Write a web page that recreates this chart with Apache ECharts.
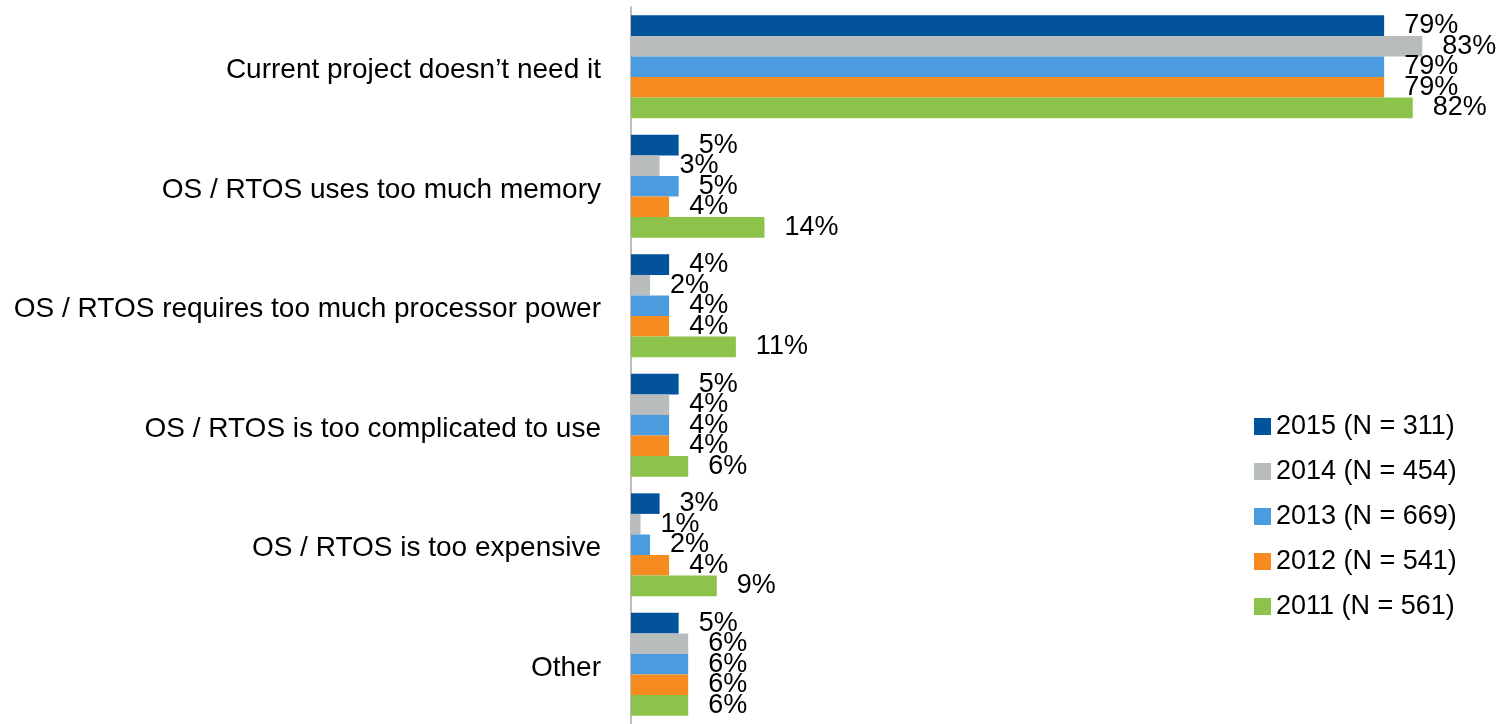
<!DOCTYPE html>
<html>
<head>
<meta charset="utf-8">
<script src="https://cdn.jsdelivr.net/npm/echarts@6/dist/echarts.min.js"></script>
<style>
  html, body { margin: 0; padding: 0; background: #ffffff; }
  #chart { width: 1504px; height: 724px; }
</style>
</head>
<body>
<div id="chart"></div>
<script>
// Reasons for not using an OS / RTOS, share of respondents (%)
const categories = [
  'Current project doesn\u2019t need it',
  'OS / RTOS uses too much memory',
  'OS / RTOS requires too much processor power',
  'OS / RTOS is too complicated to use',
  'OS / RTOS is too expensive',
  'Other'
];

const seriesNames = [
  '2015 (N = 311)',
  '2014 (N = 454)',
  '2013 (N = 669)',
  '2012 (N = 541)',
  '2011 (N = 561)'
];

const values2015 = [79, 5, 4, 5, 3, 5];
const values2014 = [83, 3, 2, 4, 1, 6];
const values2013 = [79, 5, 4, 4, 2, 6];
const values2012 = [79, 4, 4, 4, 4, 6];
const values2011 = [82, 14, 11, 6, 9, 6];

const seriesValues = [values2015, values2014, values2013, values2012, values2011];
const seriesColors = ['#02529c', '#b8bcbc', '#4b9bdf', '#f68b1f', '#8dc24b'];

const FONT = '"Liberation Sans", Arial, sans-serif';

const chart = echarts.init(document.getElementById('chart'), null, { renderer: 'canvas' });

chart.setOption({
  animation: false,
  backgroundColor: '#ffffff',
  textStyle: { fontFamily: FONT },
  grid: { left: 631, right: 15, top: 7, height: 724 },
  legend: {
    orient: 'vertical',
    left: 1249,
    top: 408,
    itemWidth: 17,
    itemHeight: 17,
    itemGap: 18,
    icon: 'rect',
    textStyle: { fontSize: 27, color: '#000000', fontFamily: FONT },
    data: seriesNames
  },
  xAxis: {
    type: 'value',
    min: 0,
    max: 90,
    show: false,
    splitLine: { show: false }
  },
  yAxis: {
    type: 'category',
    inverse: true,
    data: categories,
    axisLine: { show: true, lineStyle: { color: '#a6a6a6', width: 1.5 } },
    axisTick: { show: false },
    axisLabel: {
      margin: 30,
      formatter: (v) => '{c|' + v + '}',
      rich: {
        c: {
          fontSize: 28,
          color: '#000000',
          fontFamily: FONT,
          padding: [8, 0, 0, 0]
        }
      }
    }
  },
  series: seriesNames.map((name, i) => ({
    name: name,
    type: 'bar',
    data: seriesValues[i],
    barGap: '0%',
    barCategoryGap: '14%',
    itemStyle: { color: seriesColors[i] },
    label: {
      show: true,
      position: 'right',
      distance: 20,
      formatter: '{c}%',
      fontSize: 27,
      color: '#000000',
      fontFamily: FONT
    }
  }))
});
</script>
</body>
</html>
